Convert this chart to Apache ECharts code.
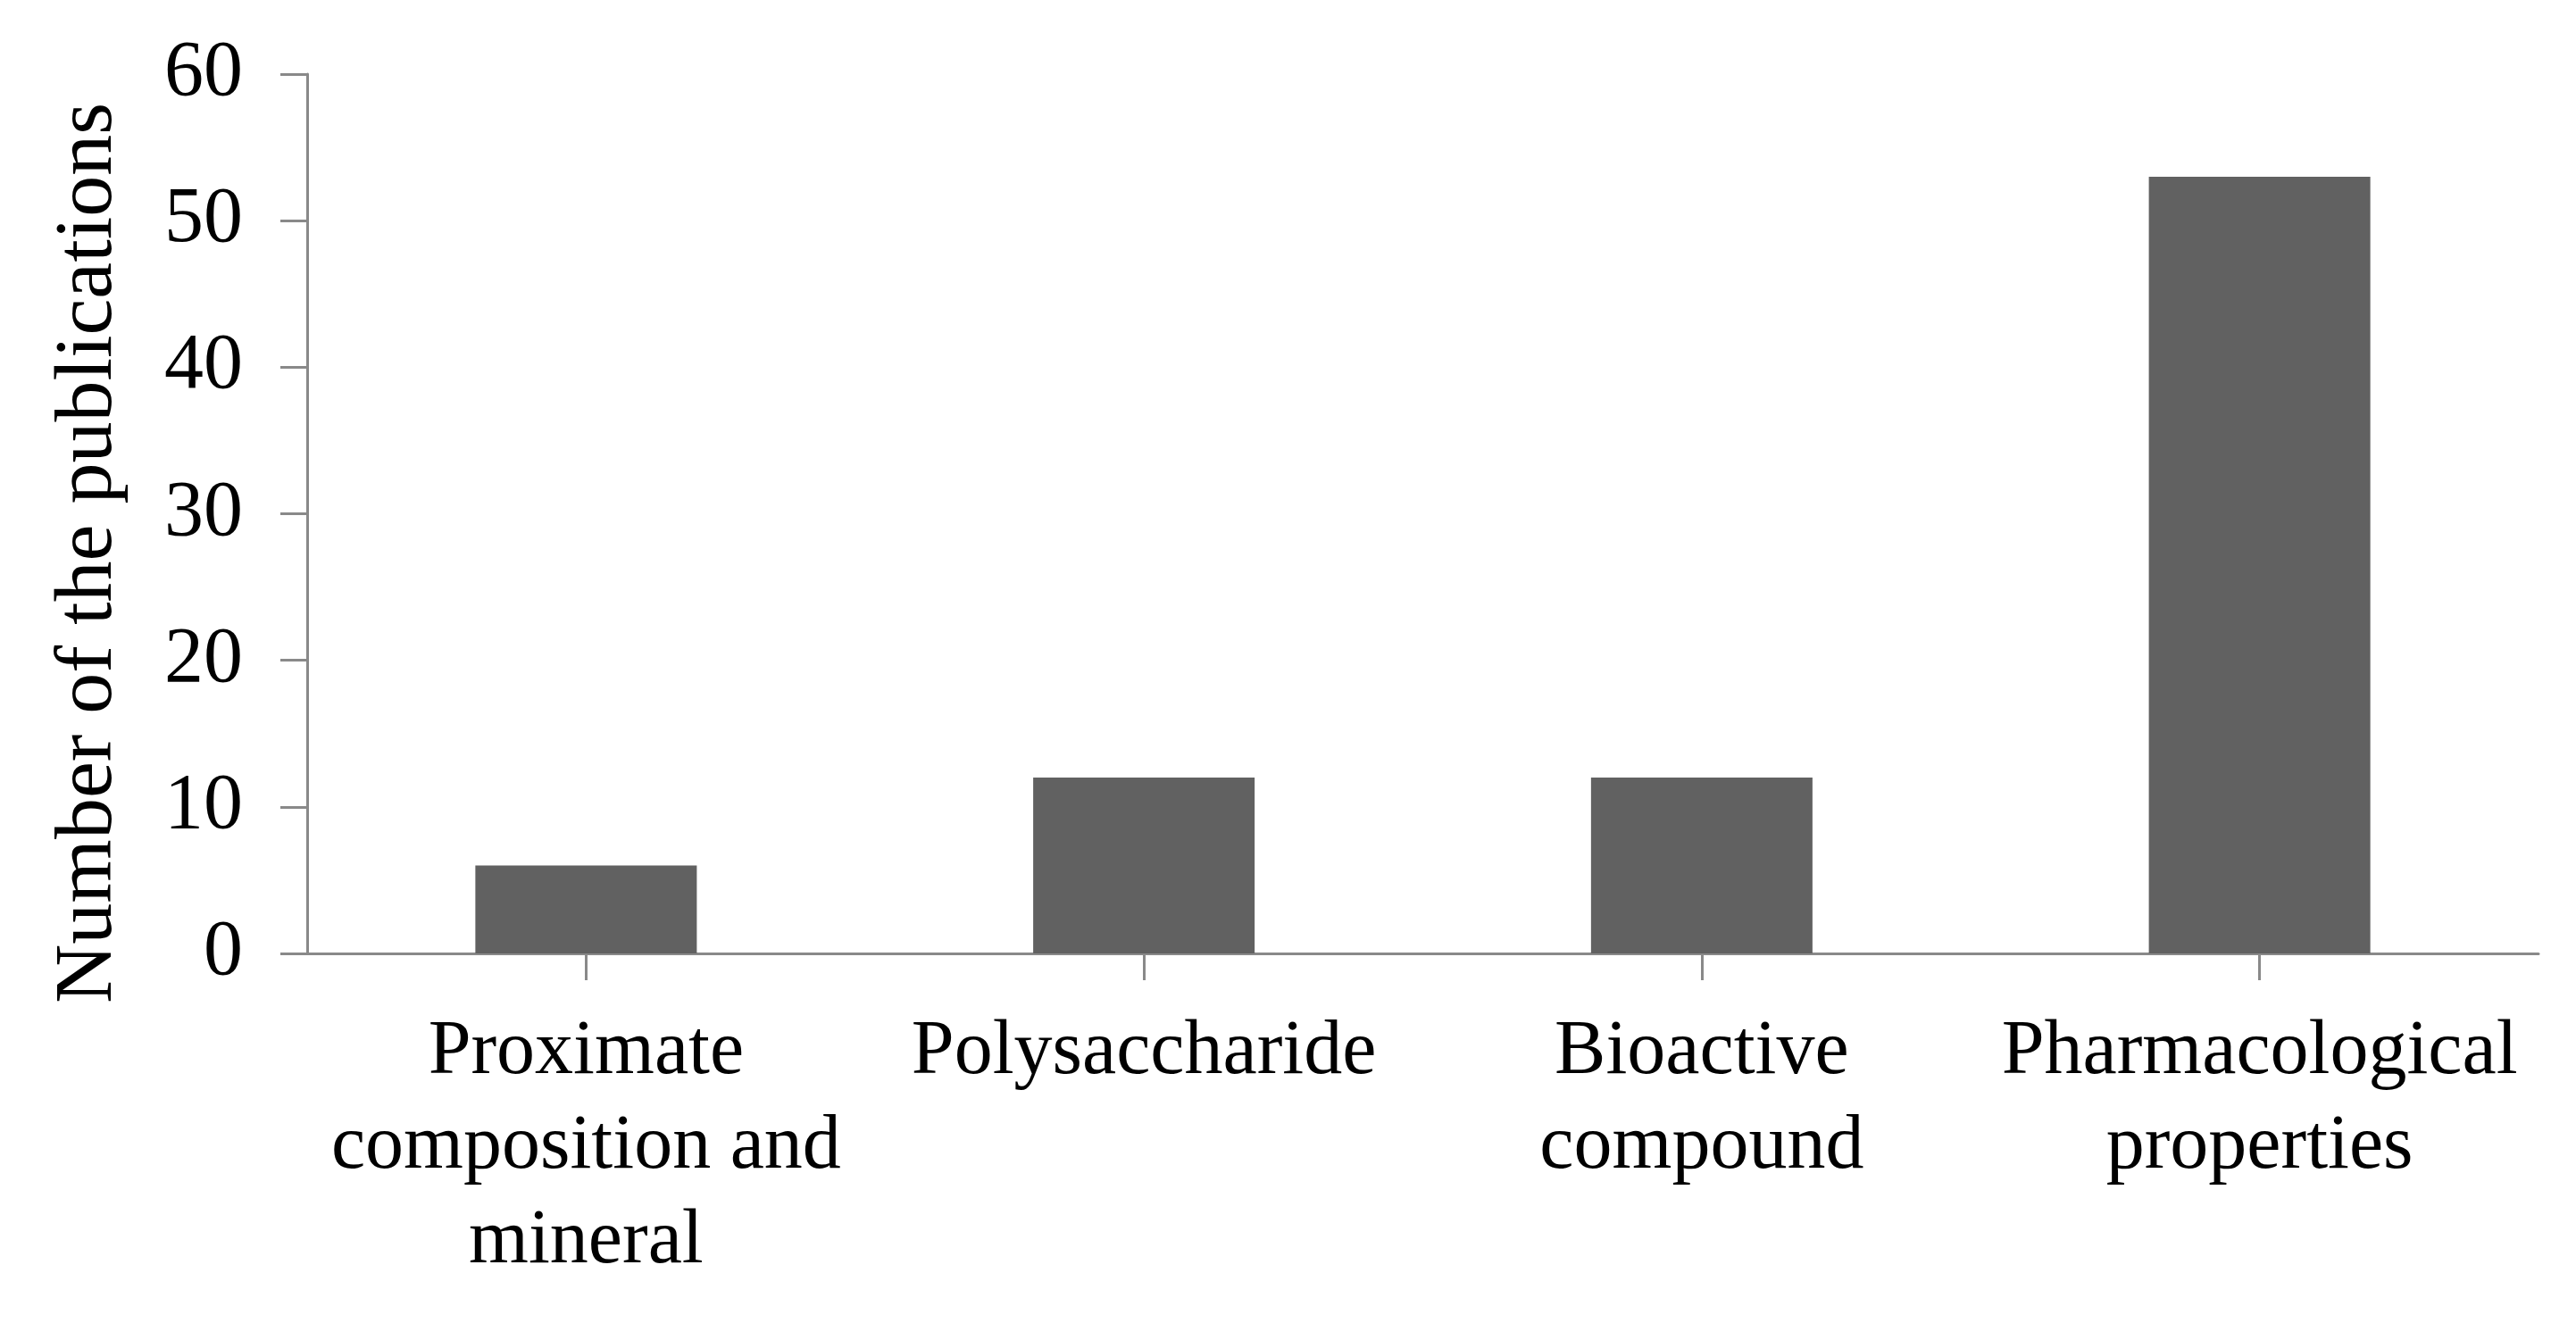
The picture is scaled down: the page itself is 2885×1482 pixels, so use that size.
<!DOCTYPE html>
<html>
<head>
<meta charset="utf-8">
<script src="https://cdn.jsdelivr.net/npm/echarts@6/dist/echarts.min.js"></script>
<style>
html,body{margin:0;padding:0;background:#fff;}
#chart{width:2885px;height:1482px;}
</style>
</head>
<body>
<div id="chart"></div>
<script>
const categories = ["Proximate\ncomposition and\nmineral", "Polysaccharide", "Bioactive\ncompound", "Pharmacological\nproperties"];
const publications = [6, 12, 12, 53];
const yAxisTitle = "Number of the publications";

const font = "'Liberation Serif', 'DejaVu Serif', serif";
const axisGray = "#898989";
const chart = echarts.init(document.getElementById('chart'), null, {renderer: 'canvas'});
chart.setOption({
  backgroundColor: '#ffffff',
  animation: false,
  grid: {left: 344, right: 42, top: 83, bottom: 414, containLabel: false},
  xAxis: {
    type: 'category',
    data: categories,
    boundaryGap: true,
    axisLine: {show: true, lineStyle: {color: axisGray, width: 3}},
    axisTick: {show: true, alignWithLabel: true, length: 30, lineStyle: {color: axisGray, width: 3}},
    axisLabel: {color: '#000', fontFamily: font, fontSize: 86, lineHeight: 106, margin: 58, interval: 0}
  },
  yAxis: {
    type: 'value',
    min: 0, max: 60, interval: 10,
    name: yAxisTitle,
    nameLocation: 'middle',
    nameGap: 198,
    nameTextStyle: {color: '#000', fontFamily: font, fontSize: 92, padding: [0, 88, 0, 0]},
    axisLine: {show: true, lineStyle: {color: axisGray, width: 3}},
    axisTick: {show: true, length: 30, lineStyle: {color: axisGray, width: 3}},
    splitLine: {show: false},
    axisLabel: {color: '#000', fontFamily: font, fontSize: 88, margin: 72}
  },
  series: [{
    type: 'bar',
    data: publications,
    barWidth: '39.7%',
    itemStyle: {color: '#616161'}
  }]
});
</script>
</body>
</html>
